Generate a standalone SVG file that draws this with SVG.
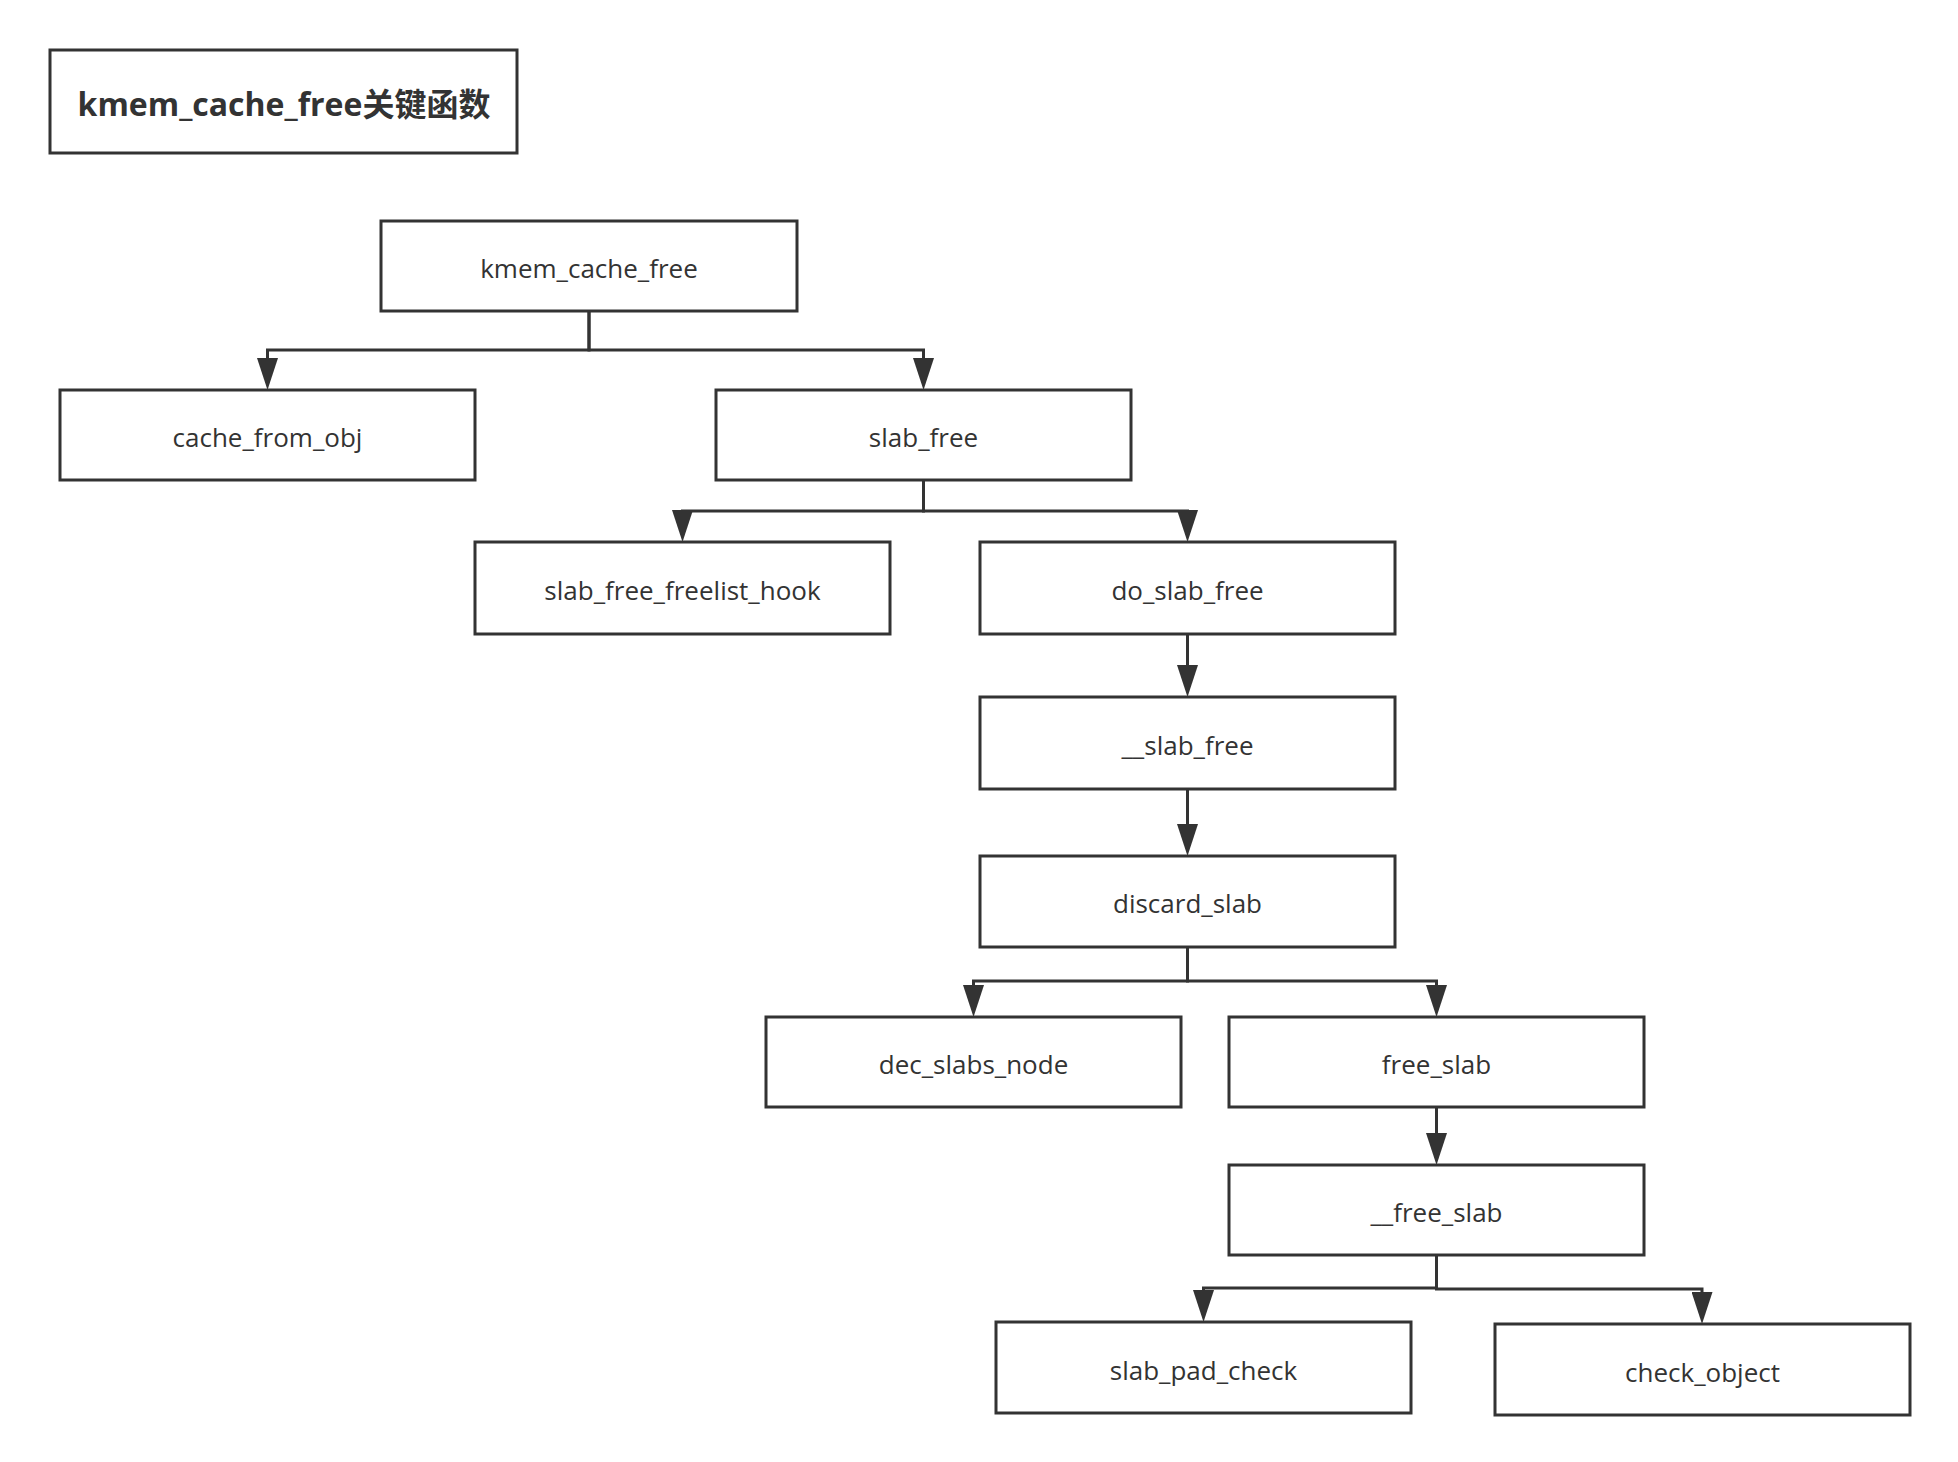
<svg xmlns="http://www.w3.org/2000/svg" width="1958" height="1462" viewBox="0 0 1958 1462">
<style>
.box{fill:#ffffff;stroke:#333333;stroke-width:3}
.lbl{font-family:"Open Sans","Noto Sans","Noto Sans CJK SC",sans-serif;font-size:26px;fill:#333333;text-anchor:middle;dominant-baseline:central}
.title{font-family:"Open Sans","Noto Sans CJK SC",sans-serif;font-size:32px;font-weight:bold;fill:#333333;text-anchor:middle;dominant-baseline:central}
.edge{fill:none;stroke:#333333;stroke-width:3;marker-end:url(#arr)}
</style>
<defs>
<marker id="arr" markerUnits="userSpaceOnUse" viewBox="0 0 32 21" markerWidth="32" markerHeight="21" refX="4" refY="10.5" orient="auto">
<path d="M0,0 L32,10.5 L0,21 Z" fill="#333333"/>
</marker>
</defs>
<rect width="1958" height="1462" fill="#ffffff"/>
<g id="title">
<rect class="box" x="50" y="50" width="467" height="103"/>
<text class="title" x="284" y="103">kmem_cache_free关键函数</text>
</g>
<g id="connectors">
<path class="edge" d="M589,311 V350 H267.5 V362"/>
<path class="edge" d="M589,311 V350 H923.5 V362"/>
<path class="edge" d="M923.5,480 V511 H682.5 V514"/>
<path class="edge" d="M923.5,480 V511 H1187.5 V514"/>
<path class="edge" d="M1187.5,634 V669"/>
<path class="edge" d="M1187.5,789 V828"/>
<path class="edge" d="M1187.5,947 V981 H973.5 V989"/>
<path class="edge" d="M1187.5,947 V981 H1436.5 V989"/>
<path class="edge" d="M1436.5,1107 V1137"/>
<path class="edge" d="M1436.5,1255 V1288 H1203.5 V1294"/>
<path class="edge" d="M1436.5,1255 V1289 H1702 V1296"/>
</g>
<g id="kmem_cache_free">
<rect class="box" x="381" y="221" width="416" height="90"/>
<text class="lbl" x="589" y="268">kmem_cache_free</text>
</g>
<g id="cache_from_obj">
<rect class="box" x="60" y="390" width="415" height="90"/>
<text class="lbl" x="267.5" y="437">cache_from_obj</text>
</g>
<g id="slab_free">
<rect class="box" x="716" y="390" width="415" height="90"/>
<text class="lbl" x="923.5" y="437">slab_free</text>
</g>
<g id="slab_free_freelist_hook">
<rect class="box" x="475" y="542" width="415" height="92"/>
<text class="lbl" x="682.5" y="590">slab_free_freelist_hook</text>
</g>
<g id="do_slab_free">
<rect class="box" x="980" y="542" width="415" height="92"/>
<text class="lbl" x="1187.5" y="590">do_slab_free</text>
</g>
<g id="__slab_free">
<rect class="box" x="980" y="697" width="415" height="92"/>
<text class="lbl" x="1187.5" y="745">__slab_free</text>
</g>
<g id="discard_slab">
<rect class="box" x="980" y="856" width="415" height="91"/>
<text class="lbl" x="1187.5" y="903">discard_slab</text>
</g>
<g id="dec_slabs_node">
<rect class="box" x="766" y="1017" width="415" height="90"/>
<text class="lbl" x="973.5" y="1064">dec_slabs_node</text>
</g>
<g id="free_slab">
<rect class="box" x="1229" y="1017" width="415" height="90"/>
<text class="lbl" x="1436.5" y="1064">free_slab</text>
</g>
<g id="__free_slab">
<rect class="box" x="1229" y="1165" width="415" height="90"/>
<text class="lbl" x="1436.5" y="1212">__free_slab</text>
</g>
<g id="slab_pad_check">
<rect class="box" x="996" y="1322" width="415" height="91"/>
<text class="lbl" x="1203.5" y="1370">slab_pad_check</text>
</g>
<g id="check_object">
<rect class="box" x="1495" y="1324" width="415" height="91"/>
<text class="lbl" x="1702.5" y="1372">check_object</text>
</g>
</svg>
